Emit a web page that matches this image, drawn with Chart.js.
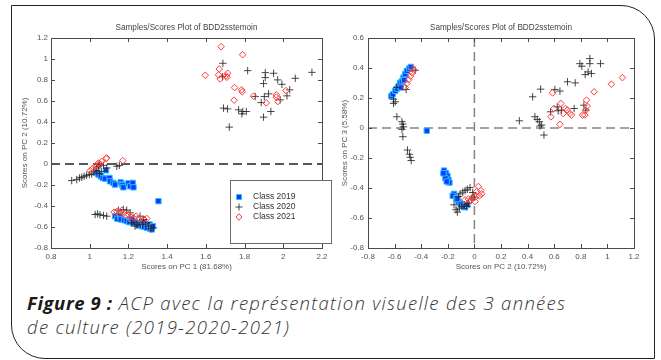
<!DOCTYPE html>
<html>
<head>
<meta charset="utf-8">
<script src="https://cdn.jsdelivr.net/npm/chart.js@4.4.0/dist/chart.umd.min.js"></script>
<style>
  body { margin: 0; background: #fff; width: 661px; height: 360px; overflow: hidden; position: relative; }
  .frame { position: absolute; left: 11px; top: 5px; width: 644px; height: 354px; box-sizing: border-box;
           border: 1.5px solid #222; border-radius: 0 34px 0 34px; }
  #left { position: absolute; left: 0; top: 0; }
  #right { position: absolute; left: 335px; top: 0; }
  .caption { position: absolute; left: 27px; top: 291px; font-family: "Open Sans", sans-serif; font-style: italic;
             font-weight: 300; font-size: 18.5px; letter-spacing: 1.3px; line-height: 24px; color: #333; }
  .caption b { font-weight: 700; color: #1a1a1a; letter-spacing: 0.6px; }
</style>
</head>
<body>
<div class="frame"></div>
<canvas id="left" width="335" height="280"></canvas>
<canvas id="right" width="326" height="280"></canvas>
<div class="caption"><b>Figure 9 :</b> ACP avec la représentation visuelle des 3 années<br>de culture (2019-2020-2021)</div>

<script>
// scores, PC1 vs PC2  [x, y]
const pc12_2019 = [[1.036,-0.085],[1.045,-0.101],[1.057,-0.117],[1.067,-0.133],[1.079,-0.139],[1.084,-0.060],[1.102,-0.133],
  [1.105,-0.165],[1.122,-0.180],[1.131,-0.196],[1.160,-0.174],[1.166,-0.190],[1.169,-0.203],[1.174,-0.222],[1.200,-0.184],
  [1.209,-0.212],[1.222,-0.180],[1.226,-0.222],[1.355,-0.354],
  [1.131,-0.497],[1.143,-0.522],[1.157,-0.497],[1.160,-0.528],[1.178,-0.535],[1.191,-0.544],[1.205,-0.554],[1.217,-0.528],
  [1.222,-0.560],[1.240,-0.566],[1.252,-0.585],[1.269,-0.592],[1.278,-0.554],[1.281,-0.598],[1.295,-0.608],[1.309,-0.576],
  [1.312,-0.617],[1.321,-0.623],[1.326,-0.592]];
const pc12_2020 = [[0.907,-0.158],[0.933,-0.149],[0.947,-0.133],[0.959,-0.127],[0.971,-0.117],[0.984,-0.108],[0.998,-0.101],
  [1.010,-0.095],[1.019,-0.076],[1.033,-0.063],[1.036,-0.038],[1.045,-0.022],[1.053,-0.006],[1.071,-0.013],[1.088,-0.038],
  [1.140,-0.022],[1.153,-0.013],[1.060,-0.070],[1.050,-0.090],
  [1.028,-0.481],[1.041,-0.475],[1.053,-0.484],[1.071,-0.490],[1.088,-0.497],[1.148,-0.440],[1.174,-0.434],[1.191,-0.440],
  [1.209,-0.465],[1.226,-0.535],[1.243,-0.576],[1.257,-0.560],[1.274,-0.576],[1.278,-0.528],[1.291,-0.560],[1.303,-0.592],
  [1.316,-0.617],[1.329,-0.608],[1.260,-0.497],[1.217,-0.560],[1.234,-0.592],
  [1.688,0.959],[1.686,0.832],[1.691,0.532],[1.712,0.525],[1.721,0.351],[1.769,0.516],[1.786,0.478],[1.791,0.500],
  [1.809,0.500],[1.816,0.889],[1.855,0.642],[1.886,0.585],[1.898,0.446],[1.898,0.766],[1.902,0.642],[1.907,0.870],
  [1.907,0.823],[1.924,0.668],[1.936,0.500],[1.950,0.864],[1.971,0.801],[1.984,0.611],[1.993,0.759],[2.019,0.649],
  [2.033,0.706],[2.062,0.816],[2.148,0.873]];
const pc12_2021 = [[1.002,-0.063],[1.014,-0.044],[1.028,-0.022],[1.036,-0.006],[1.045,0.009],[1.053,0.000],[1.062,0.025],
  [1.084,0.051],[1.088,0.057],[1.171,0.032],
  [1.126,-0.459],[1.140,-0.452],[1.153,-0.465],[1.166,-0.440],[1.174,-0.472],[1.188,-0.490],[1.200,-0.481],[1.212,-0.503],
  [1.226,-0.513],[1.240,-0.497],[1.260,-0.522],[1.281,-0.528],[1.295,-0.519],
  [1.597,0.845],[1.679,1.117],[1.669,0.905],[1.666,0.848],[1.674,0.810],[1.705,0.839],[1.712,0.864],[1.709,0.826],
  [1.790,1.041],[1.748,0.728],[1.746,0.608],[1.785,0.706],[1.788,0.687],[1.846,0.646],[1.912,0.582],[1.964,0.658],
  [1.964,0.636],[1.972,0.595],[2.014,0.699]];

// scores, PC2 vs PC3  [x, y]
const pc23_2019 = [[-0.625,0.212],[-0.613,0.226],[-0.595,0.248],[-0.583,0.263],[-0.570,0.279],[-0.558,0.301],[-0.545,0.312],
  [-0.533,0.336],[-0.520,0.359],[-0.508,0.381],[-0.490,0.396],[-0.478,0.407],[-0.553,0.270],[-0.528,0.319],
  [-0.358,-0.018],
  [-0.228,-0.284],[-0.213,-0.302],[-0.203,-0.319],[-0.195,-0.346],[-0.188,-0.364],[-0.218,-0.335],[-0.208,-0.357],
  [-0.233,-0.302],[-0.153,-0.439],[-0.163,-0.452],[-0.138,-0.468],[-0.120,-0.490],[-0.103,-0.505],[-0.083,-0.519],
  [-0.070,-0.528],[-0.053,-0.512],[-0.128,-0.474]];
const pc23_2020 = [[-0.583,0.270],[-0.513,0.257],[-0.445,0.385],[-0.608,0.192],[-0.595,0.175],[-0.608,0.164],[-0.583,0.075],
  [-0.545,0.042],[-0.538,0.026],[-0.533,0.008],[-0.545,-0.009],[-0.538,-0.058],[-0.503,-0.147],[-0.488,-0.175],
  [-0.483,-0.195],[-0.475,-0.217],
  [-0.153,-0.512],[-0.138,-0.545],[-0.128,-0.561],[-0.113,-0.534],[-0.095,-0.523],[-0.075,-0.512],[-0.058,-0.523],
  [-0.045,-0.501],[-0.108,-0.439],[-0.088,-0.428],[-0.070,-0.417],[-0.053,-0.408],[-0.033,-0.397],[-0.013,-0.430],
  [-0.003,-0.461],[-0.020,-0.474],[-0.120,-0.457],
  [0.338,0.048],[0.438,0.208],[0.498,0.259],[0.455,0.075],[0.473,0.057],[0.488,0.042],[0.493,0.013],[0.505,0.020],
  [0.523,-0.047],[0.573,0.108],[0.605,0.257],[0.643,0.246],[0.623,0.141],[0.630,0.115],[0.655,0.119],[0.700,0.308],
  [0.758,0.301],[0.750,0.130],[0.793,0.429],[0.808,0.412],[0.868,0.463],[0.868,0.429],[0.855,0.374],[0.880,0.363],
  [0.833,0.356],[0.948,0.429],[0.823,0.152],[0.838,0.119]];
const pc23_2021 = [[-0.520,0.270],[-0.508,0.297],[-0.493,0.323],[-0.480,0.345],[-0.468,0.367],[-0.455,0.385],[-0.463,0.396],
  [-0.070,-0.479],[-0.045,-0.474],[-0.028,-0.483],[-0.013,-0.461],[0.005,-0.490],[0.018,-0.423],[0.030,-0.390],
  [0.048,-0.417],[0.055,-0.439],[0.038,-0.452],[0.013,-0.457],
  [0.588,0.234],[0.575,0.075],[0.598,0.130],[0.650,0.164],[0.643,0.024],[0.685,0.130],[0.698,0.119],[0.718,0.097],
  [0.730,0.086],[0.668,0.097],[0.843,0.186],[0.848,0.146],[0.838,0.119],[0.813,0.086],[0.830,0.086],[0.900,0.241],
  [1.030,0.292],[1.113,0.336]];

const classNames = ["Class 2019", "Class 2020", "Class 2021"];
const plotTitle = "Samples/Scores Plot of BDD2sstemoin";

const toXY = arr => arr.map(p => ({x: p[0], y: p[1]}));

function classSets(a, b, c) {
  return [{
    label: classNames[0], data: toXY(a), order: 3,
    pointStyle: 'rect', pointRadius: 3.8, backgroundColor: '#1434ff', borderColor: '#22c4ff', borderWidth: 1
  }, {
    label: classNames[1], data: toXY(b), order: 2,
    pointStyle: 'cross', pointRadius: 3.7, borderColor: 'rgba(40,40,40,0.85)', backgroundColor: 'transparent', borderWidth: 1
  }, {
    label: classNames[2], data: toXY(c), order: 1,
    pointStyle: 'rectRot', pointRadius: 3.3, borderColor: '#ff3b3b', backgroundColor: 'transparent', borderWidth: 1
  }];
}

const fontFamily = '"Liberation Sans", Arial, sans-serif';

// matlab-ish box, inward ticks, dashed zero lines, title, legend
const matlabBox = {
  id: 'matlabBox',
  beforeDatasetsDraw(chart, args, opts) {
    const {ctx, chartArea: a, scales: {x, y}} = chart;
    ctx.save();
    ctx.setLineDash([9, 5]);
    ctx.lineWidth = 1.5;
    ctx.strokeStyle = opts.zeroColor;
    ctx.beginPath();
    if (opts.zeroY) {
      const py = y.getPixelForValue(0);
      ctx.moveTo(a.left, py); ctx.lineTo(a.right, py);
    }
    if (opts.zeroX) {
      const px = x.getPixelForValue(0);
      ctx.moveTo(px, a.top); ctx.lineTo(px, a.bottom);
    }
    ctx.stroke();
    ctx.restore();
  },
  afterDatasetsDraw(chart) {
    const {ctx, chartArea: a, scales: {x, y}} = chart;
    ctx.save();
    ctx.strokeStyle = '#4a4a4a';
    ctx.lineWidth = 1;
    ctx.strokeRect(Math.round(a.left) + 0.5, Math.round(a.top) + 0.5, Math.round(a.width), Math.round(a.height));
    ctx.beginPath();
    x.ticks.forEach(t => {
      const px = Math.round(x.getPixelForValue(t.value)) + 0.5;
      ctx.moveTo(px, a.bottom); ctx.lineTo(px, a.bottom - 4);
      ctx.moveTo(px, a.top); ctx.lineTo(px, a.top + 4);
    });
    y.ticks.forEach(t => {
      const py = Math.round(y.getPixelForValue(t.value)) + 0.5;
      ctx.moveTo(a.left, py); ctx.lineTo(a.left + 4, py);
      ctx.moveTo(a.right, py); ctx.lineTo(a.right - 4, py);
    });
    ctx.stroke();

    // plot title, centred over the axes box
    ctx.fillStyle = '#444';
    ctx.font = '8.2px ' + fontFamily;
    ctx.textAlign = 'center';
    ctx.textBaseline = 'middle';
    ctx.fillText(plotTitle, (a.left + a.right) / 2, a.top - 10);
    ctx.restore();
  },
  afterDraw(chart, args, opts) {
    if (!opts.legend) return;
    const {ctx, chartArea: a} = chart;
    const bx = a.left + 179, by = a.top + 142, bw = 101, bh = 63;
    ctx.save();
    ctx.fillStyle = '#fff';
    ctx.fillRect(bx, by, bw, bh);
    ctx.strokeStyle = '#6a6a6a';
    ctx.lineWidth = 1;
    ctx.strokeRect(bx + 0.5, by + 0.5, bw, bh);
    ctx.font = '8.5px ' + fontFamily;
    ctx.textBaseline = 'middle';
    chart.data.datasets.forEach((ds, i) => {
      const mx = bx + 9, my = by + 17 + i * 10;
      ctx.lineWidth = 1;
      ctx.strokeStyle = ds.borderColor;
      ctx.fillStyle = ds.backgroundColor;
      ctx.beginPath();
      if (ds.pointStyle === 'rect') {
        ctx.rect(mx - 2.5, my - 2.5, 5, 5); ctx.fill(); ctx.stroke();
      } else if (ds.pointStyle === 'cross') {
        ctx.moveTo(mx - 3.5, my); ctx.lineTo(mx + 3.5, my);
        ctx.moveTo(mx, my - 3.5); ctx.lineTo(mx, my + 3.5); ctx.stroke();
      } else {
        ctx.moveTo(mx, my - 3.3); ctx.lineTo(mx + 3, my); ctx.lineTo(mx, my + 3.3); ctx.lineTo(mx - 3, my);
        ctx.closePath(); ctx.stroke();
      }
      ctx.fillStyle = '#333';
      ctx.fillText(ds.label, bx + 23, my);
    });
    ctx.restore();
  }
};

const axisFont = {family: fontFamily, size: 8, weight: 'normal'};

function makeChart(id, sets, xr, yr, xTitle, yTitle, lay, box) {
  return new Chart(document.getElementById(id), {
    type: 'scatter',
    data: {datasets: sets},
    options: {
      responsive: false,
      animation: false,
      layout: {padding: {left: 0, right: lay.right, top: 38, bottom: 0}},
      plugins: {
        legend: {display: false},
        tooltip: {enabled: false},
        title: {display: false},
        matlabBox: box
      },
      scales: {
        x: {
          type: 'linear', min: xr[0], max: xr[1],
          grid: {display: false, drawTicks: false}, border: {display: false},
          ticks: {stepSize: 0.2, padding: 4, color: '#555', font: axisFont, maxRotation: 0,
                  callback: v => +v.toFixed(1)},
          title: {display: true, text: xTitle, color: '#555', font: axisFont, padding: {top: 0, bottom: 8}},
          afterFit: s => { s.height = 32; }
        },
        y: {
          type: 'linear', min: yr[0], max: yr[1],
          grid: {display: false, drawTicks: false}, border: {display: false},
          ticks: {stepSize: 0.2, padding: lay.tickPad, color: '#555', font: axisFont,
                  callback: v => +v.toFixed(1)},
          title: {display: true, text: yTitle, color: '#555', font: axisFont, padding: {top: lay.titlePad, bottom: 0}},
          afterFit: s => { s.width = lay.yWidth; }
        }
      }
    },
    plugins: [matlabBox]
  });
}

makeChart('left', classSets(pc12_2019, pc12_2020, pc12_2021), [0.8, 2.2], [-0.8, 1.2],
  'Scores on PC 1 (81.68%)', 'Scores on PC 2 (10.72%)',
  {right: 13, yWidth: 51, tickPad: 3, titlePad: 20},
  {zeroY: true, zeroX: false, zeroColor: '#222', legend: true});

makeChart('right', classSets(pc23_2019, pc23_2020, pc23_2021), [-0.8, 1.2], [-0.8, 0.6],
  'Scores on PC 2 (10.72%)', 'Scores on PC 3 (5.58%)',
  {right: 27, yWidth: 33, tickPad: 4, titlePad: 5},
  {zeroY: true, zeroX: true, zeroColor: '#858585', legend: false});
</script>
</body>
</html>
